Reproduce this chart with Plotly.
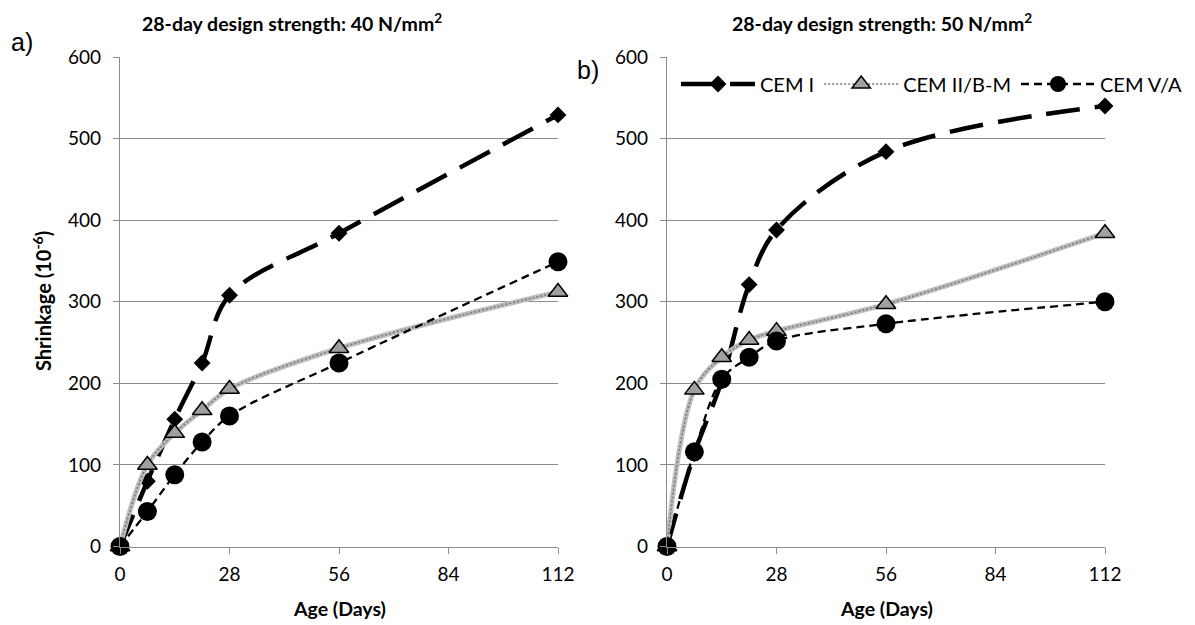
import plotly.graph_objects as go

# Drying shrinkage (microstrain) versus age for three cement types
age_days = [0, 7, 14, 21, 28, 56, 112]

# Panel a) 28-day design strength 40 N/mm2
cem1_40 = [0, 80, 156, 225, 308, 384, 529]
cem2_40 = [0, 100, 139, 167, 193, 243, 312]
cem5_40 = [0, 43, 88, 128, 160, 225, 349]

# Panel b) 28-day design strength 50 N/mm2
cem1_50 = [0, 114, 203, 321, 388, 484, 540]
cem2_50 = [0, 192, 232, 253, 264, 297, 384]
cem5_50 = [0, 116, 205, 232, 252, 273, 300]

series_names = ["CEM I", "CEM II/B-M", "CEM V/A"]
x_ticks = [0, 28, 56, 84, 112]
y_ticks = [0, 100, 200, 300, 400, 500, 600]
panel_titles = ["<b>28-day design strength: 40 N/mm<sup>2</sup></b>",
                "<b>28-day design strength: 50 N/mm<sup>2</sup></b>"]
panel_tags = ["a)", "b)"]
x_title = "<b>Age (Days)</b>"
y_title = "<b>Shrinkage (10<sup>-6</sup>)</b>"

FONT = "Lato"
GRID = "#8c8c8c"
W, H = 1195, 625

fig = go.Figure()

panels = [
    ("x", "y", cem1_40, cem2_40, cem5_40, True),
    ("x2", "y2", cem1_50, cem2_50, cem5_50, False),
]

for xa, ya, c1, c2, c5, first in panels:
    # CEM I: heavy long-dash black line with diamonds
    fig.add_trace(go.Scatter(
        x=age_days, y=c1, xaxis=xa, yaxis=ya, name=series_names[0],
        mode="lines+markers", line=dict(color="black", width=4.5, dash="34px,15px", shape="spline"),
        marker=dict(symbol="diamond", size=13, color="black"),
        cliponaxis=False, showlegend=not first, legendrank=1))
    # CEM II/B-M: textured grey line with grey triangles
    fig.add_trace(go.Scatter(
        x=age_days, y=c2, xaxis=xa, yaxis=ya, name=series_names[1],
        mode="lines", line=dict(color="#bdbdbd", width=5, shape="spline"),
        cliponaxis=False, showlegend=False, hoverinfo="skip"))
    fig.add_trace(go.Scatter(
        x=age_days, y=c2, xaxis=xa, yaxis=ya, name=series_names[1],
        mode="lines+markers", line=dict(color="#7a7a7a", width=1.6, dash="2px,2px", shape="spline"),
        marker=dict(symbol="triangle-up", size=17, color="#a0a0a0", line=dict(color="black", width=1.5)),
        cliponaxis=False, showlegend=not first, legendrank=2))
    # CEM V/A: thin short-dash black line with circles
    fig.add_trace(go.Scatter(
        x=age_days, y=c5, xaxis=xa, yaxis=ya, name=series_names[2],
        mode="lines+markers", line=dict(color="black", width=2.3, dash="8px,5px", shape="spline"),
        marker=dict(symbol="circle", size=19, color="black"),
        cliponaxis=False, showlegend=not first, legendrank=3))

axis_common = dict(
    showline=True, linecolor=GRID, linewidth=1.3,
    ticks="outside", ticklen=6, tickcolor=GRID, tickwidth=1.3,
    tickfont=dict(family=FONT, size=19, color="black"),
    zeroline=False, automargin=False,
)

# plot-area placement in pixels
xl = [(120, 558), (667, 1105)]
yb, yt = 546.5, 57
ydom = [1 - yb / H, 1 - yt / H]

fig.update_layout(
    width=W, height=H,
    margin=dict(l=0, r=0, t=0, b=0),
    paper_bgcolor="white", plot_bgcolor="white",
    font=dict(family=FONT, color="black"),
    xaxis=dict(domain=[xl[0][0] / W, xl[0][1] / W], range=[0, 112], tickvals=x_ticks, showgrid=False,
               anchor="y", ticklabelstandoff=5, **axis_common),
    yaxis=dict(domain=ydom, range=[0, 600], tickvals=y_ticks, showgrid=True,
               gridcolor=GRID, gridwidth=1.3, anchor="x", ticklabelstandoff=8, **axis_common),
    xaxis2=dict(domain=[xl[1][0] / W, xl[1][1] / W], range=[0, 112], tickvals=x_ticks, showgrid=False,
                anchor="y2", ticklabelstandoff=5, **axis_common),
    yaxis2=dict(domain=ydom, range=[0, 600], tickvals=y_ticks, showgrid=True,
                gridcolor=GRID, gridwidth=1.3, anchor="x2", ticklabelstandoff=8, **axis_common),
    legend=dict(orientation="h", x=676 / W, y=1 - 84 / H, xanchor="left", yanchor="middle",
                bgcolor="rgba(0,0,0,0)", font=dict(family=FONT, size=20, color="black"),
                itemwidth=74, tracegroupgap=0, traceorder="normal"),
    showlegend=True,
)

# panel titles, axis titles and panel tags
title_cx = [292, 882]
for cx, txt in zip(title_cx, panel_titles):
    fig.add_annotation(x=cx / W, y=1 - 22 / H, xref="paper", yref="paper", text=txt,
                       showarrow=False, font=dict(family=FONT, size=19.5, color="black"),
                       xanchor="center", yanchor="middle")

for (a, b) in xl:
    fig.add_annotation(x=(a + b) / 2 / W, y=1 - 608 / H, xref="paper", yref="paper", text=x_title,
                       showarrow=False, font=dict(family=FONT, size=19.5, color="black"),
                       xanchor="center", yanchor="middle")

fig.add_annotation(x=42 / W, y=1 - 301 / H, xref="paper", yref="paper", text=y_title,
                   textangle=-90, showarrow=False, font=dict(family=FONT, size=20, color="black"),
                   xanchor="center", yanchor="middle")

tag_pos = [(22, 42), (588, 70)]
for (tx, ty), tag in zip(tag_pos, panel_tags):
    fig.add_annotation(x=tx / W, y=1 - ty / H, xref="paper", yref="paper", text=tag,
                       showarrow=False, font=dict(family="Liberation Sans", size=25, color="black"),
                       xanchor="center", yanchor="middle")

fig.write_html("out.html")
